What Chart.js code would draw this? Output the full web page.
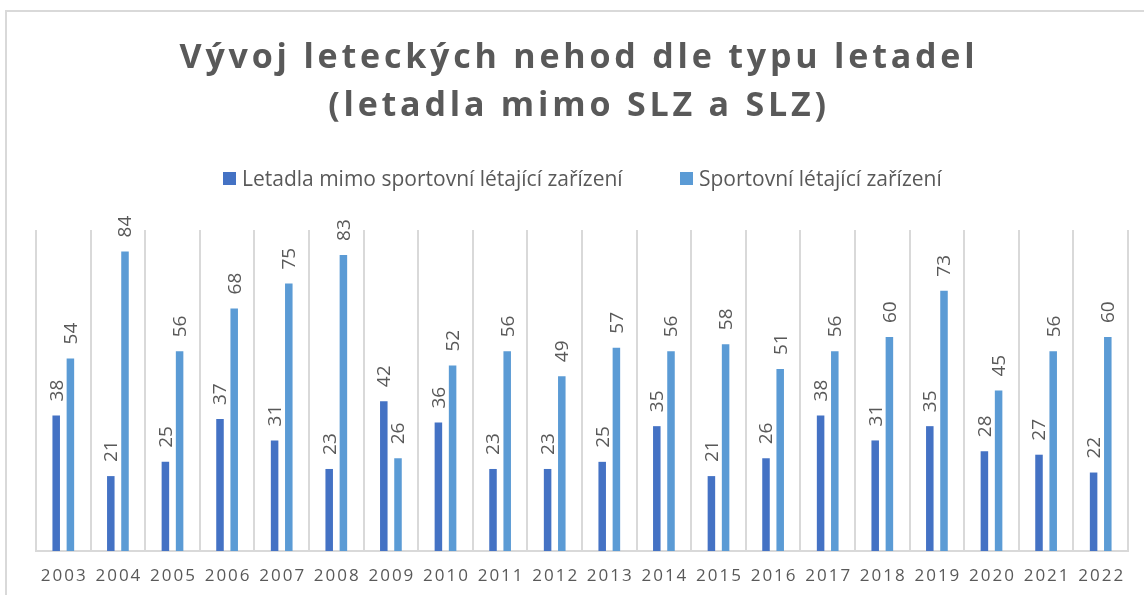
<!DOCTYPE html>
<html>
<head>
<meta charset="utf-8">
<script src="https://cdn.jsdelivr.net/npm/chart.js@4.4.0/dist/chart.umd.min.js"></script>
<style>
  html, body { margin: 0; padding: 0; background: #fff; }
  #wrap { width: 1144px; height: 595px; position: relative; }
</style>
</head>
<body>
<div id="wrap"><canvas id="c"></canvas></div>
<script>
const years = ['2003','2004','2005','2006','2007','2008','2009','2010','2011','2012',
               '2013','2014','2015','2016','2017','2018','2019','2020','2021','2022'];
const mimoSLZ = [38, 21, 25, 37, 31, 23, 42, 36, 23, 23, 25, 35, 21, 26, 38, 31, 35, 28, 27, 22];
const slz     = [54, 84, 56, 68, 75, 83, 26, 52, 56, 49, 57, 56, 58, 51, 56, 60, 73, 45, 56, 60];
const seriesNames = ['Letadla mimo sportovní létající zařízení', 'Sportovní létající zařízení'];
const titleLines = ['Vývoj leteckých nehod dle typu letadel', '(letadla mimo SLZ a SLZ)'];

const textColor = '#595959';
const font = '"Open Sans", "Liberation Sans", sans-serif';

// title, legend, frame, year labels and value labels are drawn here
const textPlugin = {
  id: 'texts',
  beforeDraw(chart) {
    const ctx = chart.ctx;
    ctx.save();
    ctx.strokeStyle = '#d9d9d9';
    ctx.lineWidth = 2;
    ctx.beginPath();
    ctx.moveTo(6, 600);
    ctx.lineTo(6, 11);
    ctx.lineTo(1150, 11);
    ctx.stroke();
    ctx.restore();
  },
  afterDatasetsDraw(chart) {
    const ctx = chart.ctx;
    ctx.save();
    ctx.fillStyle = textColor;
    ctx.font = '19px ' + font;
    ctx.textAlign = 'left';
    ctx.textBaseline = 'middle';
    chart.data.datasets.forEach((ds, di) => {
      chart.getDatasetMeta(di).data.forEach((bar, i) => {
        ctx.save();
        ctx.translate(bar.x + 1, bar.y - 14);
        ctx.rotate(-Math.PI / 2);
        ctx.fillText(String(ds.data[i]), 0, 0);
        ctx.restore();
      });
    });
    ctx.restore();
  },
  afterDraw(chart) {
    const ctx = chart.ctx;
    ctx.save();
    ctx.fillStyle = textColor;

    // title
    ctx.font = 'bold 34px ' + font;
    ctx.letterSpacing = '3.8px';
    ctx.textAlign = 'center';
    ctx.textBaseline = 'alphabetic';
    ctx.fillText(titleLines[0], 579, 68);
    ctx.fillText(titleLines[1], 579, 116);

    // legend
    ctx.letterSpacing = '0px';
    ctx.font = '21px ' + font;
    ctx.textAlign = 'left';
    const legendX = [223, 680];
    chart.data.datasets.forEach((ds, di) => {
      ctx.fillStyle = ds.backgroundColor;
      ctx.fillRect(legendX[di], 172, 13, 13);
      ctx.fillStyle = textColor;
      ctx.fillText(seriesNames[di], legendX[di] + 19, 186);
    });

    // year labels
    const xs = chart.scales.x;
    ctx.font = '17px ' + font;
    ctx.letterSpacing = '2px';
    ctx.textAlign = 'center';
    ctx.textBaseline = 'middle';
    years.forEach((y, i) => {
      ctx.fillText(y, xs.getPixelForValue(i) + 1, 576);
    });
    ctx.restore();
  }
};

new Chart(document.getElementById('c'), {
  type: 'bar',
  data: {
    labels: years,
    datasets: [
      { label: seriesNames[0], data: mimoSLZ, backgroundColor: '#4472c4',
        categoryPercentage: 0.52, barPercentage: 0.53 },
      { label: seriesNames[1], data: slz, backgroundColor: '#5b9bd5',
        categoryPercentage: 0.52, barPercentage: 0.53 }
    ]
  },
  options: {
    responsive: true,
    maintainAspectRatio: false,
    animation: false,
    layout: { padding: { left: 36, right: 16, top: 230, bottom: 44 } },
    plugins: {
      legend: { display: false },
      title: { display: false },
      tooltip: { enabled: false }
    },
    scales: {
      x: {
        grid: { color: '#d9d9d9', lineWidth: 2, drawTicks: false, offset: true },
        border: { color: '#d9d9d9', width: 2 },
        ticks: { display: false }
      },
      y: {
        display: false,
        min: 0,
        max: 90
      }
    }
  },
  plugins: [textPlugin]
});
</script>
</body>
</html>
